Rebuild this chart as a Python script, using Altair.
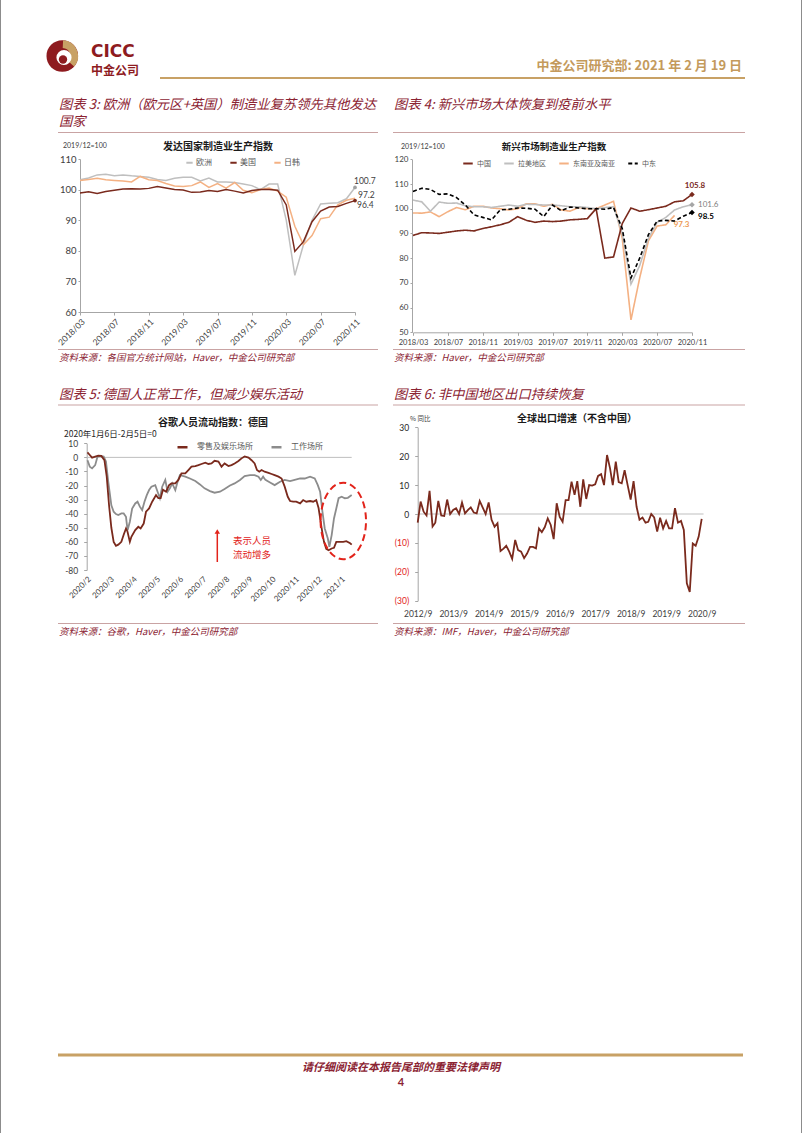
import altair as alt
import pandas as pd

W, H = 802, 1133
CN = "Noto Sans CJK SC"
NUM = "Lato"
RED_T = "#8B2332"
LOGO_RED = "#8E1B1F"
GOLD = "#C8A165"
DARK = "#7A2A1D"
LGREY = "#BFBFBF"
ORANGE = "#F4B183"
MGREY = "#8C8C8C"
AXIS = "#A6A6A6"
LBL = "#404040"
ANN_RED = "#E2231A"
RULE_T = "#C9A3A3"

# ---------------- data ----------------
MONTHS = pd.date_range("2018-03-01", "2020-11-01", freq="MS").strftime("%Y/%m").tolist()

EU = [103.2, 103.8, 104.8, 105.0, 104.5, 104.8, 104.5, 104.3, 104.0, 103.3, 103.0, 103.7, 104.0,
      104.0, 102.8, 103.8, 102.5, 102.5, 102.3, 101.8, 101.3, 100.0, 101.8, 101.8, 90.0, 72.0,
      82.0, 90.0, 95.3, 95.5, 95.7, 97.0, 100.7]
US = [98.9, 99.3, 98.7, 99.4, 99.8, 100.2, 100.3, 100.2, 100.4, 101.0, 100.5, 100.0, 99.9, 99.1,
      99.2, 99.7, 99.4, 100.0, 99.5, 98.9, 99.7, 100.0, 100.0, 99.8, 95.0, 79.8, 83.0, 89.5, 93.0,
      94.3, 94.5, 95.5, 96.4]
JK = [103.0, 103.3, 103.7, 103.2, 103.0, 102.8, 102.5, 104.3, 103.2, 103.0, 102.0, 101.2, 101.0,
      101.3, 102.5, 100.7, 102.0, 100.5, 102.3, 99.8, 99.0, 100.0, 100.5, 99.5, 97.5, 88.0, 82.0,
      85.0, 90.5, 91.0, 95.0, 96.5, 97.2]

CHINA = [89.2, 90.3, 90.2, 90.0, 90.5, 91.0, 91.3, 91.0, 92.0, 92.7, 93.5, 94.5, 96.8, 95.3, 94.5,
         95.0, 94.8, 95.0, 95.5, 95.7, 96.0, 100.0, 80.0, 80.5, 94.0, 100.3, 99.0, 99.6, 100.3,
         101.0, 102.8, 103.2, 105.8]
LATAM = [103.5, 102.8, 99.0, 102.7, 102.2, 102.3, 101.2, 100.8, 100.8, 100.5, 101.0, 101.5, 101.0,
         101.8, 101.7, 101.5, 101.5, 101.2, 100.8, 100.8, 100.5, 100.0, 100.5, 100.8, 90.0, 69.5,
         77.0, 88.0, 94.5, 96.5, 99.5, 100.8, 101.6]
SEASIA = [98.3, 98.2, 98.7, 96.8, 98.8, 100.5, 99.6, 101.0, 101.0, 100.3, 100.0, 99.5, 100.0, 102.0,
          102.0, 101.0, 101.8, 99.5, 99.0, 100.5, 100.0, 100.0, 101.5, 103.0, 88.0, 55.0, 72.0,
          87.0, 93.0, 93.5, 97.3]
MIDEAST = [107.0, 108.3, 107.8, 105.8, 106.0, 104.5, 101.5, 97.5, 96.5, 95.5, 99.5, 99.8, 100.3,
           100.2, 99.8, 96.8, 101.5, 99.2, 100.7, 100.3, 100.0, 100.0, 99.8, 100.5, 92.0, 72.0,
           80.0, 89.5, 95.0, 95.3, 95.0, 97.0, 98.5]

RETAIL = [("2020-02-16", 3.5), ("2020-02-19", 1.7), ("2020-02-22", -0.2), ("2020-02-26", 0.5),
          ("2020-03-01", 1.2), ("2020-03-05", 1.0), ("2020-03-09", -2.0), ("2020-03-12", -13.7),
          ("2020-03-15", -34), ("2020-03-18", -50), ("2020-03-21", -60), ("2020-03-24", -62.8),
          ("2020-03-27", -62), ("2020-03-31", -60), ("2020-04-03", -55), ("2020-04-06", -50.5),
          ("2020-04-08", -52.8), ("2020-04-11", -60), ("2020-04-13", -56.4), ("2020-04-18", -51.7),
          ("2020-04-22", -49.3), ("2020-04-25", -50.5), ("2020-04-29", -47), ("2020-05-02", -38.6),
          ("2020-05-06", -36.3), ("2020-05-10", -31.5), ("2020-05-15", -26.8), ("2020-05-18", -29),
          ("2020-05-21", -29), ("2020-05-24", -23), ("2020-05-28", -24.4), ("2020-06-01", -19.7),
          ("2020-06-04", -18.5), ("2020-06-09", -18.5), ("2020-06-13", -16), ("2020-06-17", -11.4),
          ("2020-06-22", -11.4), ("2020-06-26", -9), ("2020-06-30", -6.6), ("2020-07-05", -6.2),
          ("2020-07-09", -5.5), ("2020-07-13", -4.7), ("2020-07-18", -3.8), ("2020-07-22", -4.7),
          ("2020-07-26", -4.3), ("2020-07-30", -2.4), ("2020-08-04", -3), ("2020-08-08", -6.6),
          ("2020-08-12", -4.3), ("2020-08-17", -6.2), ("2020-08-21", -5.5), ("2020-08-25", -4.3),
          ("2020-08-30", -2.6), ("2020-09-03", -0.7), ("2020-09-07", 0.7), ("2020-09-12", -0.2),
          ("2020-09-16", -2), ("2020-09-20", -4.3), ("2020-09-23", -9), ("2020-09-26", -10.2),
          ("2020-09-29", -9), ("2020-10-03", -10.2), ("2020-10-08", -11), ("2020-10-12", -11.8),
          ("2020-10-16", -12.6), ("2020-10-21", -13.7), ("2020-10-25", -15), ("2020-10-29", -20.8),
          ("2020-11-02", -28), ("2020-11-05", -31), ("2020-11-09", -31.5), ("2020-11-13", -31.5),
          ("2020-11-18", -32.7), ("2020-11-22", -30.3), ("2020-11-26", -31.5), ("2020-12-01", -31),
          ("2020-12-05", -31.5), ("2020-12-09", -30.3), ("2020-12-12", -36), ("2020-12-16", -50.5),
          ("2020-12-19", -60), ("2020-12-22", -65), ("2020-12-25", -66), ("2020-12-29", -64.7),
          ("2021-01-01", -64.2), ("2021-01-04", -60), ("2021-01-09", -60), ("2021-01-13", -60),
          ("2021-01-17", -59.5), ("2021-01-22", -61), ("2021-01-24", -62)]
WORK = [("2020-02-16", -2), ("2020-02-19", -6.6), ("2020-02-22", -7.8), ("2020-02-26", -5.5),
        ("2020-02-29", 0.5), ("2020-03-03", 1), ("2020-03-08", 0.5), ("2020-03-11", -3),
        ("2020-03-14", -17.3), ("2020-03-18", -34), ("2020-03-21", -38.6), ("2020-03-24", -40.3),
        ("2020-03-27", -41), ("2020-03-31", -39.8), ("2020-04-03", -39.8), ("2020-04-06", -42.2),
        ("2020-04-08", -51.7), ("2020-04-11", -45.7), ("2020-04-14", -36.3), ("2020-04-18", -32.7),
        ("2020-04-21", -31.5), ("2020-04-24", -35), ("2020-04-27", -37.4), ("2020-04-30", -31.5),
        ("2020-05-03", -26.8), ("2020-05-06", -23.2), ("2020-05-09", -20.8), ("2020-05-14", -19.7),
        ("2020-05-17", -24.4), ("2020-05-20", -29), ("2020-05-23", -20.8), ("2020-05-27", -16),
        ("2020-05-30", -24.4), ("2020-06-02", -22), ("2020-06-05", -18.5), ("2020-06-09", -23.2),
        ("2020-06-12", -17.3), ("2020-06-15", -12.6), ("2020-06-22", -13.7), ("2020-06-28", -15),
        ("2020-07-05", -16.8), ("2020-07-11", -19.2), ("2020-07-17", -22), ("2020-07-24", -24),
        ("2020-07-30", -25.1), ("2020-08-06", -24.4), ("2020-08-12", -22.5), ("2020-08-19", -20),
        ("2020-08-25", -18.5), ("2020-09-01", -16), ("2020-09-07", -13.3), ("2020-09-14", -12.6),
        ("2020-09-20", -12.6), ("2020-09-25", -13.7), ("2020-09-28", -16), ("2020-10-01", -13.7),
        ("2020-10-04", -16), ("2020-10-10", -17.8), ("2020-10-16", -19.7), ("2020-10-23", -17.3),
        ("2020-10-29", -16), ("2020-11-05", -16.8), ("2020-11-11", -16), ("2020-11-18", -15),
        ("2020-11-24", -15), ("2020-12-01", -13.7), ("2020-12-07", -15), ("2020-12-11", -19.7),
        ("2020-12-14", -24.4), ("2020-12-17", -38.6), ("2020-12-20", -50.5), ("2020-12-24", -57.6),
        ("2020-12-26", -63.5), ("2020-12-29", -55.2), ("2021-01-01", -43.4), ("2021-01-04", -36.3),
        ("2021-01-07", -29), ("2021-01-11", -28), ("2021-01-15", -29), ("2021-01-19", -28.7),
        ("2021-01-24", -26.8)]

EXPORT = [-3, 4.3, 0.8, -0.5, 8, -4.3, -3, 4.5, -0.5, -0.7,
          5, 0, 1.4, 2, 0, 4, 0.2, 1.4, 2.3, 0.5,
          0.2, 4.5, 2.3, 0, 4, -2, -4.4, -3.2, -12.8, -12,
          -11, -13, -15.5, -9, -12.5, -13, -15.3, -13.7, -11.4, -11.4,
          -11.9, -5, -6.3, -4.5, -1.5, -3.8, -8.7, 3.7, -1, -2.7,
          4.8, 4.8, 11.2, 6.6, 11.4, 2.5, 12, 5.2, 10, 9.8,
          10.3, 13.2, 13.8, 10, 20.4, 15.8, 10, 18.1, 11, 10.6,
          15.2, 10, 5, 11.4, 2.5, -2, -1.2, -3, -2.7, 0,
          -1.2, -6.1, -1.3, -5, -2.4, -5, -5, 2, -3, -2.4,
          -5.5, -24, -27, -10.2, -11, -7.8, -1.7]
EXPORT_MONTHS = pd.date_range("2012-09-01", periods=len(EXPORT), freq="MS").strftime("%Y-%m-%d").tolist()

one = pd.DataFrame({"k": [0]})


def txt(s, x, y, size=10, color="#000000", font=CN, weight="normal", style="normal",
        align="left", baseline="middle"):
    return alt.Chart(one).mark_text(text=s, fontSize=size, color=color, font=font,
                                    fontWeight=weight, fontStyle=style, align=align,
                                    baseline=baseline).encode(x=alt.value(x), y=alt.value(y))


def hline(x1, x2, y, color, width=1):
    return alt.Chart(one).mark_rule(color=color, strokeWidth=width).encode(
        x=alt.value(x1), x2=alt.value(x2), y=alt.value(y))


def vline(x, y1, y2, color, width=1):
    return alt.Chart(one).mark_rule(color=color, strokeWidth=width).encode(
        x=alt.value(x), y=alt.value(y1), y2=alt.value(y2))


def dt(y, m, d):
    return alt.DateTime(year=y, month=m, date=d, utc=True)


def lab(month, value, x_enc, y_enc, dx, dy, color, size, weight="normal", align="left"):
    d = pd.DataFrame({"month": [month], "value": [value], "t": [f"{value:.1f}"]})
    return alt.Chart(d).mark_text(dx=dx, dy=dy, color=color, fontSize=size, font=NUM,
                                  fontWeight=weight, align=align).encode(
        x=x_enc, y=y_enc, text="t:N")


# ---------------- chart 3 ----------------
df3 = pd.DataFrame({"month": MONTHS * 3,
                    "series": ["欧洲"] * len(EU) + ["日韩"] * len(JK) + ["美国"] * len(US),
                    "value": EU + JK + US})
x3 = alt.X("month:O", sort=MONTHS,
           scale=alt.Scale(type="point", range=[80, 355], padding=0),
           axis=alt.Axis(orient="bottom", offset=312 - H, values=MONTHS[::4], labelAngle=315,
                         labelAlign="right", labelBaseline="top", labelFont=NUM, labelFontSize=8.5,
                         labelColor=LBL, labelPadding=2, domainColor=AXIS, tickColor=AXIS,
                         tickSize=3, title=None, labelOverlap=False, grid=False))
y3 = alt.Y("value:Q", scale=alt.Scale(domain=[60, 110], range=[312, 159], zero=False, nice=False),
           axis=alt.Axis(orient="left", offset=-80, values=list(range(60, 111, 10)), labelFont=NUM,
                         labelFontSize=9.5, labelColor=LBL, domainColor=AXIS, tickColor=AXIS,
                         tickSize=2, labelPadding=2, title=None, grid=False))
c3 = alt.Color("series:N",
               scale=alt.Scale(domain=["欧洲", "美国", "日韩"], range=[LGREY, DARK, ORANGE]),
               legend=alt.Legend(orient="none", legendX=185, legendY=158, direction="horizontal",
                                 title=None, symbolType="stroke", symbolSize=40,
                                 symbolStrokeWidth=2, labelFont=CN, labelFontSize=8,
                                 labelColor="#595959", labelOffset=2, columnPadding=14, padding=0))
lines3 = alt.Chart(df3).mark_line(strokeWidth=1.5).encode(x=x3, y=y3, color=c3)
end3 = pd.DataFrame({"month": [MONTHS[-1]] * 2, "value": [EU[-1], US[-1]], "c": ["#A0A0A0", DARK]})
pts3 = alt.Chart(end3).mark_point(filled=True, size=14, opacity=1).encode(
    x=x3, y=y3, color=alt.Color("c:N", scale=None))

chart3 = alt.layer(
    lines3, pts3,
    lab(MONTHS[-1], EU[-1], x3, y3, -1, -6, LBL, 8.5),
    lab(MONTHS[-1], JK[-1], x3, y3, 3, -3.5, LBL, 8.5),
    lab(MONTHS[-1], US[-1], x3, y3, 2, 4.5, LBL, 8.5),
)

# ---------------- chart 4 ----------------
df4 = pd.DataFrame({
    "month": MONTHS[:len(SEASIA)] + MONTHS + MONTHS + MONTHS,
    "series": ["东南亚及南亚"] * len(SEASIA) + ["拉美地区"] * len(LATAM) + ["中国"] * len(CHINA)
              + ["中东"] * len(MIDEAST),
    "value": SEASIA + LATAM + CHINA + MIDEAST})
x4 = alt.X("month:O", sort=MONTHS,
           scale=alt.Scale(type="point", range=[413, 692], padding=0),
           axis=alt.Axis(orient="bottom", offset=332.3 - H, values=MONTHS[::4], labelAngle=0,
                         labelFont=NUM, labelFontSize=7.5, labelColor=LBL, labelPadding=3,
                         domainColor=AXIS, tickColor=AXIS, tickSize=3, title=None,
                         labelOverlap=False, grid=False))
y4 = alt.Y("value:Q", scale=alt.Scale(domain=[50, 120], range=[332.3, 159.3], zero=False, nice=False),
           axis=alt.Axis(orient="left", offset=-412, values=list(range(50, 121, 10)), labelFont=NUM,
                         labelFontSize=8, labelColor=LBL, domainColor=AXIS, tickColor=AXIS,
                         tickSize=2, labelPadding=2, title=None, grid=False))
dom4 = ["中国", "拉美地区", "东南亚及南亚", "中东"]
leg4 = alt.Legend(orient="none", legendX=462, legendY=157.5, direction="horizontal", title=None,
                  symbolType="stroke", symbolSize=90, symbolStrokeWidth=2, labelFont=CN,
                  labelFontSize=7, labelColor="#595959", labelOffset=3, columnPadding=9, padding=0)
c4 = alt.Color("series:N", scale=alt.Scale(domain=dom4, range=[DARK, LGREY, ORANGE, "#000000"]),
               legend=leg4)
d4 = alt.StrokeDash("series:N", scale=alt.Scale(domain=dom4, range=[[1, 0], [1, 0], [1, 0], [4, 2.5]]),
                    legend=leg4)
lines4 = alt.Chart(df4).mark_line(strokeWidth=1.6).encode(x=x4, y=y4, color=c4, strokeDash=d4)
end4 = pd.DataFrame({"month": [MONTHS[-1]] * 3, "value": [CHINA[-1], LATAM[-1], MIDEAST[-1]],
                     "c": [DARK, "#A6A6A6", "#000000"]})
pts4 = alt.Chart(end4).mark_point(filled=True, size=30, shape="diamond", opacity=1).encode(
    x=x4, y=y4, color=alt.Color("c:N", scale=None))
chart4 = alt.layer(
    lines4, pts4,
    lab(MONTHS[-1], CHINA[-1], x4, y4, 3, -8.5, DARK, 8, "bold", "center"),
    lab(MONTHS[-1], LATAM[-1], x4, y4, 6, 0, "#808080", 8),
    lab(MONTHS[len(SEASIA) - 1], SEASIA[-1], x4, y4, 7, 10, "#ED9B55", 8, "bold", "center"),
    lab(MONTHS[-1], MIDEAST[-1], x4, y4, 6, 5, "#000000", 8, "bold"),
)

# ---------------- chart 5 ----------------
df5 = pd.DataFrame(
    [{"date": d, "value": v, "series": "工作场所"} for d, v in WORK]
    + [{"date": d, "value": v, "series": "零售及娱乐场所"} for d, v in RETAIL])
ticks5 = [dt(2020, 2, 15), dt(2020, 3, 16), dt(2020, 4, 15), dt(2020, 5, 15), dt(2020, 6, 14),
          dt(2020, 7, 14), dt(2020, 8, 13), dt(2020, 9, 12), dt(2020, 10, 12), dt(2020, 11, 11),
          dt(2020, 12, 11), dt(2021, 1, 10)]
x5 = alt.X("date:T",
           scale=alt.Scale(type="utc", domain=[dt(2020, 2, 15), dt(2021, 1, 24)], range=[86.7, 351.7]),
           axis=alt.Axis(orient="bottom", offset=570 - H, values=ticks5, format="%Y/%-m",
                         labelAngle=315, labelAlign="right", labelBaseline="top", domain=False,
                         ticks=False, labelPadding=5, labelFlush=False, labelFont=NUM,
                         labelFontSize=8, labelColor=LBL, title=None, labelOverlap=False, grid=False))
y5 = alt.Y("value:Q", scale=alt.Scale(domain=[-80, 10], range=[570, 443.3], zero=False, nice=False),
           axis=alt.Axis(orient="left", offset=-86.7, values=list(range(-80, 11, 10)),
                         labelExpr="'' + datum.value", labelFont=NUM, labelFontSize=8.5,
                         labelColor=LBL, domainColor=AXIS, tickColor=AXIS, tickSize=3,
                         labelPadding=6, title=None, grid=False))
c5 = alt.Color("series:N", scale=alt.Scale(domain=["零售及娱乐场所", "工作场所"], range=[DARK, MGREY]),
               legend=alt.Legend(orient="none", legendX=176, legendY=440.5, direction="horizontal",
                                 title=None, symbolType="stroke", symbolSize=100,
                                 symbolStrokeWidth=2.5, labelFont=CN, labelFontSize=8,
                                 labelColor="#595959", labelOffset=8, columnPadding=13, padding=0))
zero5 = pd.DataFrame({"date": ["2020-02-15"], "date_end": ["2021-01-24"], "value": [0]})
rule5 = alt.Chart(zero5).mark_rule(color=LGREY, strokeWidth=1).encode(x=x5, x2="date_end:T", y=y5)
lines5 = alt.Chart(df5).mark_line(strokeWidth=1.8).encode(x=x5, y=y5, color=c5)
chart5 = alt.layer(rule5, lines5)

# ---------------- chart 6 ----------------
df6 = pd.DataFrame({"month": EXPORT_MONTHS, "value": EXPORT})
x6 = alt.X("month:T",
           scale=alt.Scale(type="utc", domain=[dt(2012, 9, 1), dt(2020, 9, 1)], range=[417.7, 701.7]),
           axis=alt.Axis(orient="bottom", offset=601 - H, values=[dt(y, 9, 1) for y in range(2012, 2021)],
                         format="%Y/%-m", domain=False, ticks=False, labelPadding=8, labelFlush=False,
                         labelFont=NUM, labelFontSize=8.5, labelColor=LBL, title=None,
                         labelOverlap=False, grid=False))
y6 = alt.Y("value:Q", scale=alt.Scale(domain=[-30, 30], range=[600.7, 427.3], zero=False, nice=False),
           axis=alt.Axis(orient="left", offset=-417.7, values=list(range(-30, 31, 10)),
                         labelExpr="datum.value < 0 ? '(' + (-datum.value) + ')' : '' + datum.value",
                         labelColor={"condition": {"test": "datum.value < 0", "value": ANN_RED},
                                     "value": "#262626"},
                         labelFont=NUM, labelFontSize=8.5, domainColor=AXIS, tickColor=AXIS,
                         tickSize=3, labelPadding=6, title=None, grid=False))
zero6 = pd.DataFrame({"month": [EXPORT_MONTHS[0]], "month_end": ["2020-09-20"], "value": [0]})
rule6 = alt.Chart(zero6).mark_rule(color=LGREY, strokeWidth=1).encode(x=x6, x2="month_end:T", y=y6)
line6 = alt.Chart(df6).mark_line(strokeWidth=1.8, color=DARK).encode(x=x6, y=y6)
chart6 = alt.layer(rule6, line6)

# ---------------- page furniture ----------------
ELLIPSE = "M -0.593 0 A 0.593 1 0 1 0 0.593 0 A 0.593 1 0 1 0 -0.593 0 Z"

deco = [
    vline(0.5, 0, H, "#8C8C8C"), vline(801.5, 0, H, "#8C8C8C"),
    # logo
    alt.Chart(one).mark_point(filled=True, size=1000, color=LOGO_RED, opacity=1).encode(
        x=alt.value(62.3), y=alt.value(56)),
    alt.Chart(one).mark_arc(radius=15.8, radius2=8, theta=0.05, theta2=2.3, color=GOLD).encode(
        x=alt.value(62.3), y=alt.value(56)),
    alt.Chart(one).mark_point(filled=True, size=230, color="white", opacity=1).encode(
        x=alt.value(64), y=alt.value(57.5)),
    alt.Chart(one).mark_point(filled=True, size=70, color=LOGO_RED, opacity=1).encode(
        x=alt.value(63), y=alt.value(59.5)),
    txt("CICC", 91, 52, 17, LOGO_RED, "DejaVu Sans", "bold"),
    txt("中金公司", 91, 70.5, 12, LOGO_RED, CN, "bold"),
    txt("中金公司研究部: 2021 年 2 月 19 日", 742, 66, 13, "#C49A5C", CN, "bold", align="right"),
    hline(160, 745, 78, GOLD, 2),
    # titles row 1
    txt("图表 3: 欧洲（欧元区+英国）制造业复苏领先其他发达", 59, 105, 13.3, RED_T, CN, style="italic"),
    txt("国家", 59, 122, 13.3, RED_T, CN, style="italic"),
    txt("图表 4: 新兴市场大体恢复到疫前水平", 394, 105, 13.3, RED_T, CN, style="italic"),
    hline(58, 378, 132.5, RULE_T), hline(393, 745, 132.5, RULE_T),
    txt("2019/12=100", 63, 146, 7, LBL, NUM),
    txt("发达国家制造业生产指数", 218, 147, 10, "#1A1A1A", CN, "bold", align="center"),
    txt("2019/12=100", 401, 147, 7, LBL, NUM),
    txt("新兴市场制造业生产指数", 554, 147, 9.5, "#1A1A1A", CN, "bold", align="center"),
    hline(58, 378, 349.5, RULE_T), hline(393, 745, 349.5, RULE_T),
    txt("资料来源：各国官方统计网站，Haver，中金公司研究部", 59, 358, 9.5, RED_T, CN, style="italic"),
    txt("资料来源：Haver，中金公司研究部", 394, 358, 9.5, RED_T, CN, style="italic"),
    # titles row 2
    txt("图表 5: 德国人正常工作，但减少娱乐活动", 59, 395, 13.3, RED_T, CN, style="italic"),
    txt("图表 6: 非中国地区出口持续恢复", 394, 395, 13.3, RED_T, CN, style="italic"),
    hline(58, 378, 405, RULE_T), hline(393, 745, 405, RULE_T),
    txt("谷歌人员流动指数：德国", 213, 423, 10, "#1A1A1A", CN, "bold", align="center"),
    txt("2020年1月6日-2月5日=0", 64, 434, 8.5, "#262626", CN),
    txt("全球出口增速（不含中国）", 577, 419, 10, "#1A1A1A", CN, "bold", align="center"),
    txt("% 同比", 410, 419, 6.5, LBL, CN),
    # chart 5 annotations
    vline(217.3, 562, 533, ANN_RED, 1.5),
    alt.Chart(one).mark_point(filled=True, size=30, shape="triangle-up", color=ANN_RED, opacity=1).encode(
        x=alt.value(217.3), y=alt.value(531.5)),
    txt("表示人员", 252, 541, 9.5, ANN_RED, CN, align="center"),
    txt("流动增多", 252, 554.5, 9.5, ANN_RED, CN, align="center"),
    alt.Chart(one).mark_point(shape=ELLIPSE, size=5868, filled=False, stroke=ANN_RED, strokeWidth=2,
                              strokeDash=[7, 4], opacity=1).encode(x=alt.value(343.3), y=alt.value(521)),
    hline(58, 378, 623.5, RULE_T), hline(393, 745, 623.5, RULE_T),
    txt("资料来源：谷歌，Haver，中金公司研究部", 59, 632, 9.5, RED_T, CN, style="italic"),
    txt("资料来源：IMF，Haver，中金公司研究部", 394, 632, 9.5, RED_T, CN, style="italic"),
    # footer
    hline(58, 743, 1055, GOLD, 3),
    txt("请仔细阅读在本报告尾部的重要法律声明", 401, 1068, 11, RED_T, CN, "bold", "italic", align="center"),
    txt("4", 401, 1083, 11, RED_T, NUM, "bold", align="center"),
]

chart = alt.layer(chart3, chart4, chart5, chart6, *deco).resolve_scale(
    x="independent", y="independent", color="independent", strokeDash="independent"
).resolve_axis(x="independent", y="independent").resolve_legend(
    color="independent", strokeDash="independent"
).properties(
    width=W, height=H, padding=0, autosize=alt.AutoSizeParams(type="none"), background="white"
).configure_view(stroke=None).configure_axis(grid=False)

chart.save("out.html", embed_options={"renderer": "svg", "actions": False})
